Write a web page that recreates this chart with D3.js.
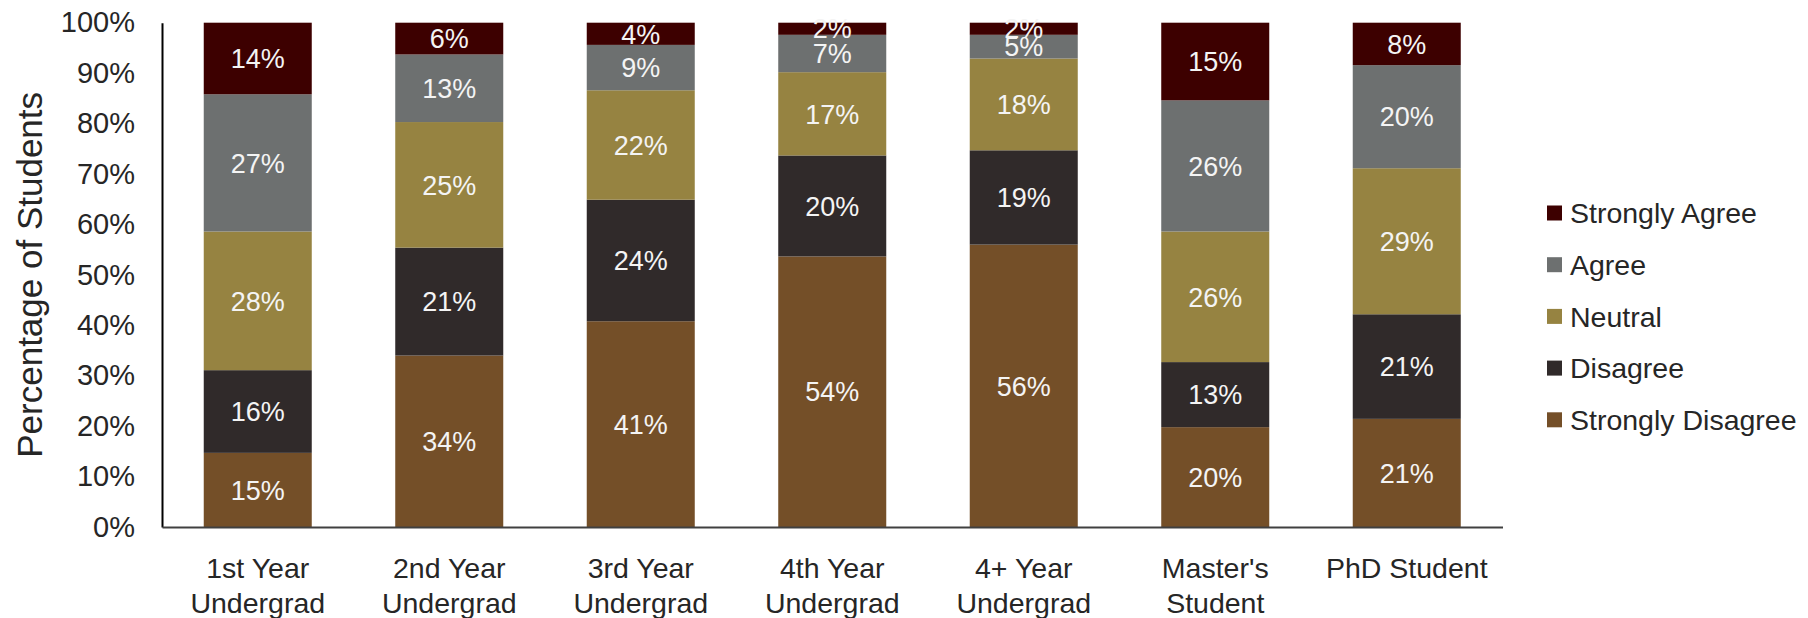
<!DOCTYPE html>
<html>
<head>
<meta charset="utf-8">
<script src="https://cdn.jsdelivr.net/npm/d3@7"></script>
<style>
  html, body { margin: 0; padding: 0; background: #fff; }
  svg { display: block; font-family: "Liberation Sans", Arial, sans-serif; }
</style>
</head>
<body>
<svg id="chart" width="1808" height="618"></svg>
<script>
// ---- data ----
const categories = ["1st Year|Undergrad", "2nd Year|Undergrad", "3rd Year|Undergrad",
                    "4th Year|Undergrad", "4+ Year|Undergrad", "Master's|Student", "PhD Student"];
const seriesNames = ["Strongly Disagree", "Disagree", "Neutral", "Agree", "Strongly Agree"];
const stronglyDisagree = [14.7, 34.0, 40.8, 53.6, 56.0, 19.8, 21.4];
const disagree         = [16.4, 21.4, 24.1, 20.0, 18.7, 12.9, 20.7];
const neutral          = [27.5, 24.9, 21.7, 16.5, 18.2, 25.9, 28.9];
const agree            = [27.2, 13.4,  9.0,  7.4,  4.7, 26.0, 20.4];
const stronglyAgree    = [14.2,  6.3,  4.4,  2.4,  2.4, 15.4,  8.4];
const yTickValues = [0, 0.1, 0.2, 0.3, 0.4, 0.5, 0.6, 0.7, 0.8, 0.9, 1.0];
const colors = ["#744f28", "#302a2a", "#968341", "#6d7070", "#3d0000"];

const seriesValues = [stronglyDisagree, disagree, neutral, agree, stronglyAgree];
const table = categories.map((c, i) => {
  const row = { cat: c };
  seriesNames.forEach((s, j) => row[s] = seriesValues[j][i]);
  return row;
});

const svg = d3.select("#chart");
const mLeft = 162, mRight = 1502.5, mTop = 22.7, mBottom = 527;

const x = d3.scaleBand().domain(categories).range([mLeft, mRight])
  .paddingInner(0.436).paddingOuter(0.218);
const y = d3.scaleLinear().domain([0, 1]).range([mBottom, mTop]);
const color = d3.scaleOrdinal().domain(seriesNames).range(colors);

const stacked = d3.stack().keys(seriesNames).offset(d3.stackOffsetExpand)(table);

// bars
const layers = svg.append("g").selectAll("g").data(stacked).join("g")
  .attr("fill", d => color(d.key));
layers.selectAll("rect").data(d => d).join("rect")
  .attr("x", d => x(d.data.cat))
  .attr("width", x.bandwidth())
  .attr("y", d => y(d[1]))
  .attr("height", d => y(d[0]) - y(d[1]));

// labels
const lab = svg.append("g").attr("font-size", 27).attr("fill", "#f4f4f4")
  .attr("text-anchor", "middle");
stacked.forEach(layer => {
  layer.forEach(d => {
    const v = d.data[layer.key];
    lab.append("text")
      .attr("x", x(d.data.cat) + x.bandwidth() / 2)
      .attr("y", y((d[0] + d[1]) / 2))
      .attr("dy", "0.36em")
      .text(Math.round(v) + "%");
  });
});

// y axis
const yAxis = svg.append("g").attr("transform", `translate(${mLeft},0)`)
  .call(d3.axisLeft(y).tickValues(yTickValues).tickFormat(d3.format(".0%"))
        .tickSize(0).tickPadding(27));
yAxis.select(".domain").attr("stroke", "#000").attr("stroke-width", 2);
yAxis.selectAll("text").attr("font-size", 29).attr("fill", "#262626")
  .attr("font-family", "'Liberation Sans', Arial, sans-serif");

// x axis
const xAxis = svg.append("g").attr("transform", `translate(0,${mBottom})`)
  .call(d3.axisBottom(x).tickSize(0).tickSizeOuter(0).tickFormat(""));
xAxis.select(".domain").attr("stroke", "#404040").attr("stroke-width", 2);
xAxis.selectAll(".tick").each(function(d) {
  const parts = d.split("|");
  const t = d3.select(this).append("text")
    .attr("text-anchor", "middle").attr("fill", "#262626")
    .attr("font-size", 28.5)
    .attr("font-family", "'Liberation Sans', Arial, sans-serif");
  parts.forEach((p, i) => {
    t.append("tspan").attr("x", 0).attr("y", 51 + i * 35).text(p);
  });
});

// y title
svg.append("text")
  .attr("transform", `translate(42,${(mTop + mBottom) / 2}) rotate(-90)`)
  .attr("text-anchor", "middle").attr("font-size", 35).attr("fill", "#262626")
  .text("Percentage of Students");

// legend (Strongly Agree first)
const legendOrder = seriesNames.slice().reverse();
const lg = svg.append("g").attr("transform", "translate(1547,213)");
legendOrder.forEach((s, i) => {
  const g = lg.append("g").attr("transform", `translate(0,${i * 51.7})`);
  g.append("rect").attr("x", 0).attr("y", -7.5).attr("width", 15).attr("height", 15)
    .attr("fill", color(s));
  g.append("text").attr("x", 23).attr("y", 0).attr("dy", "0.36em")
    .attr("font-size", 28.5).attr("fill", "#262626").text(s);
});
</script>
</body>
</html>
